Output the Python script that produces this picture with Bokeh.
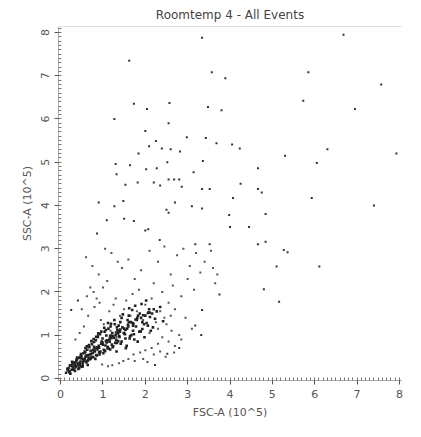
from bokeh.plotting import figure
from bokeh.embed import file_html
from bokeh.resources import INLINE
from bokeh.models import Range1d, Span, FixedTicker

# sparse events (FSC-A, SSC-A) in 10^5
sparse_x = [3.34,6.68,1.62,3.57,5.85,3.89,7.57,1.73,2.57,2.04,3.48,3.80,5.73,6.95,1.27,2.55,2.00,2.98,3.43,2.25,
            2.09,3.68,4.05,4.23,2.39,2.60,6.30,7.93,1.84,2.82,5.30,2.52,3.36,1.30,1.64,6.05,2.27,2.02,4.66,3.14,
            1.32,2.55,2.68,2.80,1.82,2.20,1.53,2.35,2.86,4.25,3.34,3.52,4.66,4.75,0.90,1.48,2.70,4.07,5.93,7.40,
            1.27,3.10,2.50,2.55,3.34,3.98,4.84,1.09,1.50,1.73,2.07,2.00,4.00,4.45,0.86,2.34,3.18,3.52,4.66,4.84,
            5.27,5.36,5.10,6.11,4.80,5.16,3.75,3.34,3.18,3.32,2.80,2.52,2.23,0.41,0.25]
sparse_y = [7.88,7.95,7.35,7.08,7.08,6.94,6.80,6.35,6.37,6.23,6.28,6.20,6.42,6.23,6.00,5.90,5.72,5.58,5.56,5.49,
            5.37,5.44,5.41,5.32,5.32,5.30,5.30,5.20,5.20,5.25,5.15,5.00,5.03,4.96,4.93,4.98,4.86,4.84,4.86,4.77,
            4.72,4.60,4.60,4.60,4.53,4.53,4.48,4.46,4.43,4.50,4.38,4.38,4.38,4.30,4.07,4.10,4.07,4.17,4.17,4.00,
            3.98,3.98,3.90,3.83,3.93,3.78,3.80,3.66,3.69,3.64,3.45,3.42,3.50,3.50,3.35,3.20,3.10,3.10,3.10,3.16,
            2.97,2.92,2.59,2.59,2.06,1.77,1.94,1.58,1.22,1.00,0.70,0.57,0.31,1.80,1.58]

# medium-density events
mid_x = [0.60,0.75,0.90,1.05,1.20,1.35,0.70,0.85,1.10,1.45,1.60,1.75,1.90,2.10,2.30,2.45,2.60,2.75,2.90,3.05,
         3.20,3.30,3.40,3.55,3.65,2.20,2.40,2.65,2.85,3.00,3.15,1.55,1.70,1.85,2.00,2.15,2.35,2.55,2.70,2.95,
         0.55,0.65,0.80,0.95,1.15,1.30,1.40,0.45,0.35,0.50,0.62,0.78,0.92,1.00,1.25,1.50,1.65,1.80,1.95,2.05,
         2.25,2.50,2.62,2.80,2.40,2.30,2.15,2.00,1.88,1.72,1.60,1.48,1.38,1.22,1.12,0.98,2.55,2.70,2.85,3.10,
         1.90,2.10,2.30,2.45,2.60,2.20,2.35,1.95,2.05,1.75,0.88,0.72,0.58,1.02,1.18,1.32,3.60,3.70,2.48,2.68]
mid_y = [2.80,2.60,2.40,3.00,2.90,2.70,2.10,1.85,2.25,2.55,2.75,2.30,2.50,2.95,2.70,3.05,2.40,2.85,3.00,2.60,
         2.90,2.45,2.70,2.95,2.20,2.20,2.00,2.15,1.90,2.30,2.05,1.80,1.95,2.05,1.70,1.85,1.55,1.75,1.60,1.40,
         1.20,1.45,1.65,1.35,1.55,1.85,1.45,1.05,0.90,1.60,1.90,2.00,1.75,2.10,1.70,1.60,1.45,1.55,1.35,1.50,
         1.30,1.25,1.10,1.00,0.95,0.80,0.70,0.65,0.60,0.55,0.45,0.40,0.35,0.30,0.28,0.32,0.85,0.75,0.90,1.15,
         1.10,1.05,1.15,1.40,1.45,0.55,0.62,0.45,0.38,0.40,1.00,0.85,0.70,1.25,1.10,0.95,2.55,2.40,0.50,0.60]

# dense diagonal band (hand-read cloud)
dense_x = [0.13,0.17,0.21,0.19,0.26,0.24,0.31,0.28,0.36,0.33,0.41,0.38,0.44,0.47,0.43,0.52,0.49,0.56,0.54,0.61,
           0.58,0.66,0.63,0.69,0.72,0.68,0.77,0.74,0.81,0.79,0.86,0.83,0.91,0.88,0.94,0.97,0.93,1.02,0.99,1.06,
           1.04,1.11,1.08,1.16,1.13,1.21,1.18,1.26,1.23,1.31,1.28,1.36,1.34,1.41,1.38,1.46,1.52,1.58,1.63,1.71,
           0.23,0.29,0.34,0.37,0.42,0.46,0.51,0.57,0.59,0.64,0.71,0.73,0.82,0.84,0.92,0.96,1.01,1.07,1.09,1.17,
           1.19,1.24,1.32,1.33,1.42,1.44,1.49,1.56,1.61,1.67,1.69,1.78,1.82,1.87,1.93,1.98,2.11,2.18,2.27,2.42,
           0.27,0.32,0.39,0.45,0.48,0.53,0.62,0.65,0.67,0.76,0.78,0.87,0.89,0.98,1.03,1.05,1.12,1.14,1.22,1.27,
           1.29,1.37,1.39,1.47,1.53,1.54,1.62,1.66,1.74,1.76,1.81,1.89,1.91,1.97,2.02,2.07,2.13,0.16,0.22,0.35,
           0.40,0.55,0.60,0.70,0.80,0.90,1.00,1.10,1.20,1.30,1.40,1.50,1.60,1.70,1.80,1.90,2.00,2.10,2.20,2.35,
           0.29,0.39,0.53,0.57,0.73,0.79,0.93,0.97,1.13,1.17,1.33,1.37,1.53,1.59,1.73,1.77,1.93,2.03,2.09,2.23,
           0.21,0.33,0.47,0.59,0.63,0.77,0.84,0.96,1.04,1.16,1.24,1.36,1.44,1.57,1.64,1.72,1.86,1.95,2.06,2.16,
           0.45,0.62,0.81,0.99,1.19,1.41,1.61,1.83,0.52,0.71,0.91,1.11,1.31,1.51,1.71,0.34,0.49,0.66,0.86,1.07]
dense_y = [0.13,0.19,0.14,0.24,0.20,0.29,0.21,0.33,0.26,0.37,0.30,0.43,0.24,0.39,0.47,0.33,0.52,0.41,0.58,0.37,
           0.60,0.48,0.66,0.44,0.57,0.72,0.49,0.79,0.62,0.84,0.53,0.88,0.71,0.96,0.62,0.81,1.02,0.66,0.92,0.76,
           1.08,0.69,0.99,0.85,1.15,0.78,1.20,0.94,0.72,1.06,1.25,0.86,1.12,1.30,0.98,1.18,1.02,1.35,0.92,1.22,
           0.11,0.25,0.17,0.41,0.22,0.50,0.27,0.44,0.70,0.31,0.64,0.86,0.45,0.96,0.55,1.08,0.58,1.12,0.83,0.67,
           1.26,0.98,0.62,1.18,0.80,1.40,1.05,0.75,1.45,1.00,1.58,1.20,0.85,1.50,1.30,0.95,1.42,1.18,1.55,1.32,
           0.38,0.20,0.48,0.33,0.56,0.45,0.74,0.42,0.77,0.59,0.91,0.67,1.04,0.80,1.17,0.63,1.28,0.88,1.05,1.35,
           0.82,1.22,0.96,1.48,1.12,0.70,1.62,1.30,0.90,1.68,1.40,1.08,1.72,1.25,1.80,1.52,1.10,0.22,0.30,0.28,
           0.35,0.42,0.52,0.55,0.64,0.75,0.78,0.88,0.93,1.00,1.08,1.15,1.20,1.28,1.35,1.40,1.45,1.52,1.60,1.65,
           0.27,0.45,0.38,0.62,0.49,0.73,0.60,0.85,0.70,0.98,0.82,1.10,0.92,1.24,1.02,1.36,1.14,1.28,1.60,1.38,
           0.16,0.36,0.28,0.50,0.40,0.66,0.54,0.80,0.64,0.92,0.74,1.04,0.85,1.15,0.97,1.26,1.08,1.46,1.22,1.50,
           0.36,0.53,0.69,0.83,0.99,1.13,1.30,1.45,0.28,0.46,0.60,0.73,0.89,1.03,1.10,0.31,0.46,0.54,0.72,0.86]

x_ticks = [0, 1, 2, 3, 4, 5, 6, 7, 8]
y_ticks = [0, 1, 2, 3, 4, 5, 6, 7, 8]

FONT = "DejaVu Sans"
p = figure(width=405, height=421, output_backend="svg", toolbar_location=None,
           x_range=Range1d(-0.05, 8.05), y_range=Range1d(-0.05, 8.14),
           title="Roomtemp 4 - All Events", min_border_left=58, min_border_right=4)
p.title.align = "center"
p.title.text_font = FONT
p.title.text_font_size = "12px"
p.title.text_font_style = "normal"
p.outline_line_color = None
p.grid.visible = False

for arr_x, arr_y, col, sz in [(sparse_x, sparse_y, "#333333", 2), (mid_x, mid_y, "#555555", 2),
                              (dense_x, dense_y, "#222222", 2.6)]:
    p.scatter(arr_x, arr_y, marker="square", size=sz, color=col, line_color=None)

for ax, t in [(p.xaxis[0], x_ticks), (p.yaxis[0], y_ticks)]:
    ax.ticker = FixedTicker(ticks=t, minor_ticks=[i * 0.1 for i in range(0, 83)])
    ax.axis_line_color = "#555555"
    ax.axis_line_dash = "1 1"
    ax.major_tick_line_color = "#555555"
    ax.minor_tick_line_color = "#777777"
    ax.major_tick_out = 4
    ax.major_tick_in = 2
    ax.minor_tick_out = 0
    ax.minor_tick_in = 3
    ax.major_label_text_font = FONT
    ax.major_label_text_font_size = "11px"
    ax.major_label_text_color = "#555555"
    ax.axis_label_text_font = FONT
    ax.axis_label_text_font_size = "11px"
    ax.axis_label_text_color = "#555555"
    ax.axis_label_text_font_style = "normal"
p.xaxis.axis_label = "FSC-A (10^5)"
p.yaxis.axis_label = "SSC-A (10^5)"
p.yaxis.major_label_orientation = "vertical"

p.add_layout(Span(location=8.14, dimension="width", line_color="#777777", line_dash="1 1", line_width=1))

open("out.html", "w").write(file_html(p, INLINE))
